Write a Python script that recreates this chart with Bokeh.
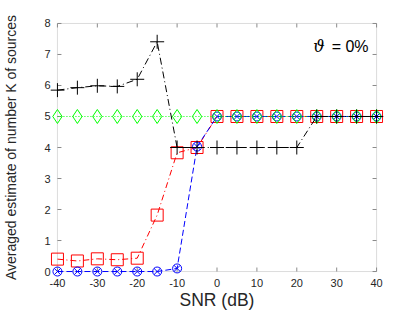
from bokeh.plotting import figure
from bokeh.models import LinearAxis, FixedTicker, Range1d, Label, BoxAnnotation
from bokeh.embed import file_html
from bokeh.resources import INLINE

# ---- data ----
snr = [-40, -35, -30, -25, -20, -15, -10, -5, 0, 5, 10, 15, 20, 25, 30, 35, 40]
k_black = [5.85, 5.93, 5.99, 5.97, 6.2, 7.41, 4.0, 4.0, 4.0, 4.0, 4.0, 4.0, 4.0, 5.0, 5.0, 5.0, 5.0]
k_green = [5.0, 5.0, 5.0, 5.0, 5.0, 5.0, 5.0, 5.0, 5.0, 5.0, 5.0, 5.0, 5.0, 5.0, 5.0, 5.0, 5.0]
k_red = [0.40, 0.34, 0.41, 0.38, 0.43, 1.82, 3.83, 4.0, 5.0, 5.0, 5.0, 5.0, 5.0, 5.0, 5.0, 5.0, 5.0]
k_blue = [0.0, 0.0, 0.0, 0.0, 0.0, 0.0, 0.1, 4.03, 5.0, 5.0, 5.0, 5.0, 5.0, 5.0, 5.0, 5.0, 5.0]
x_ticks = [-40, -30, -20, -10, 0, 10, 20, 30, 40]
x_tick_labels = ["-40", "-30", "-20", "-10", "0", "10", "20", "30", "40"]
y_ticks = [0, 1, 2, 3, 4, 5, 6, 7, 8]
y_tick_labels = ["0", "1", "2", "3", "4", "5", "6", "7", "8"]
x_label = "SNR (dB)"
y_label = "Averaged estimate of number K of sources"
annot_sym = "\u03d1"
annot_rest = "= 0%"

X_MIN, X_MAX = -40, 40
Y_MIN, Y_MAX = 0, 8

FONT = "Liberation Sans"
AX = "#8a8a8a"
TXT = "#262626"

# plotting frame extends PAD px beyond the axes box so edge markers are not clipped
PAD = 7
BOX_W, BOX_H = 322, 249
xpad = PAD * (X_MAX - X_MIN) / BOX_W
ypad = PAD * (Y_MAX - Y_MIN) / BOX_H

p = figure(width=415, height=312, output_backend="svg", toolbar_location=None,
           x_range=Range1d(X_MIN - xpad, X_MAX + xpad), y_range=Range1d(Y_MIN - ypad, Y_MAX + ypad),
           min_border_left=54 - PAD, min_border_right=39 - PAD,
           min_border_top=23 - PAD, min_border_bottom=40 - PAD,
           x_axis_location=None, y_axis_location=None)
p.outline_line_color = None
p.xgrid.visible = False
p.ygrid.visible = False
p.background_fill_color = "white"
p.border_fill_color = "white"

def label_axis(ax, ticks, labels):
    ax.ticker = FixedTicker(ticks=ticks)
    ax.axis_line_color = None
    ax.major_tick_line_color = None
    ax.minor_tick_line_color = None
    ax.major_tick_in = 0
    ax.major_tick_out = 0
    ax.minor_tick_in = 0
    ax.minor_tick_out = 0
    ax.major_label_overrides = {t: l for t, l in zip(ticks, labels)}
    ax.major_label_text_font = FONT
    ax.major_label_text_font_size = "11px"
    ax.major_label_text_color = TXT
    ax.axis_label_text_font = FONT
    ax.axis_label_text_font_style = "normal"
    ax.axis_label_text_color = TXT

xb = LinearAxis()
label_axis(xb, x_ticks, x_tick_labels)
xb.major_label_standoff = 0
xb.axis_label = x_label
xb.axis_label_text_font_size = "17.5px"
xb.axis_label_standoff = 0
p.add_layout(xb, "below")

yl = LinearAxis()
label_axis(yl, y_ticks, y_tick_labels)
yl.major_label_standoff = 0
yl.axis_label = y_label
yl.axis_label_text_font_size = "14px"
yl.axis_label_standoff = 22
p.add_layout(yl, "left")

# axes box and inward ticks
p.add_layout(BoxAnnotation(left=X_MIN, right=X_MAX, bottom=Y_MIN, top=Y_MAX,
                           fill_color=None, line_color=AX, line_width=1, level="underlay"))
TL = 4
p.ray(x=x_ticks, y=[Y_MIN] * len(x_ticks), length=TL, length_units="screen",
      angle=90, angle_units="deg", line_color=AX, line_width=1)
p.ray(x=x_ticks, y=[Y_MAX] * len(x_ticks), length=TL, length_units="screen",
      angle=-90, angle_units="deg", line_color=AX, line_width=1)
p.ray(x=[X_MIN] * len(y_ticks), y=y_ticks, length=TL, length_units="screen",
      angle=0, angle_units="deg", line_color=AX, line_width=1)
p.ray(x=[X_MAX] * len(y_ticks), y=y_ticks, length=TL, length_units="screen",
      angle=180, angle_units="deg", line_color=AX, line_width=1)

# red squares, dash-dot
p.line(snr, k_red, line_color="#ff0000", line_width=1, line_dash="6 3 1 3")
p.scatter(snr, k_red, marker="square", size=12, fill_color=None, line_color="#ff0000", line_width=1)
# blue circle-x, dashed
p.line(snr, k_blue, line_color="#0000ff", line_width=1, line_dash="6 3")
p.scatter(snr, k_blue, marker="circle_x", size=9, fill_color=None, line_color="#0000ff", line_width=1)
# green diamonds, dotted
p.line(snr, k_green, line_color="#00ff00", line_width=1, line_dash="1 2")
p.scatter(snr, k_green, marker="diamond", size=14, fill_color=None, line_color="#00ff00", line_width=1)
# black crosses, dash-dot
p.line(snr, k_black, line_color="#000000", line_width=1, line_dash="7 3 1 3")
p.scatter(snr, k_black, marker="cross", size=14, line_color="#000000", line_width=1)

p.add_layout(Label(x=24.1, y=7.25, text=annot_sym, text_font="DejaVu Serif",
                   text_font_style="italic", text_font_size="16px", text_color="#000000",
                   text_align="left", text_baseline="alphabetic"))
p.add_layout(Label(x=38.0, y=7.25, text=annot_rest, text_font=FONT,
                   text_font_size="16px", text_color="#000000",
                   text_align="right", text_baseline="alphabetic"))

open("out.html", "w").write(file_html(p, INLINE))
